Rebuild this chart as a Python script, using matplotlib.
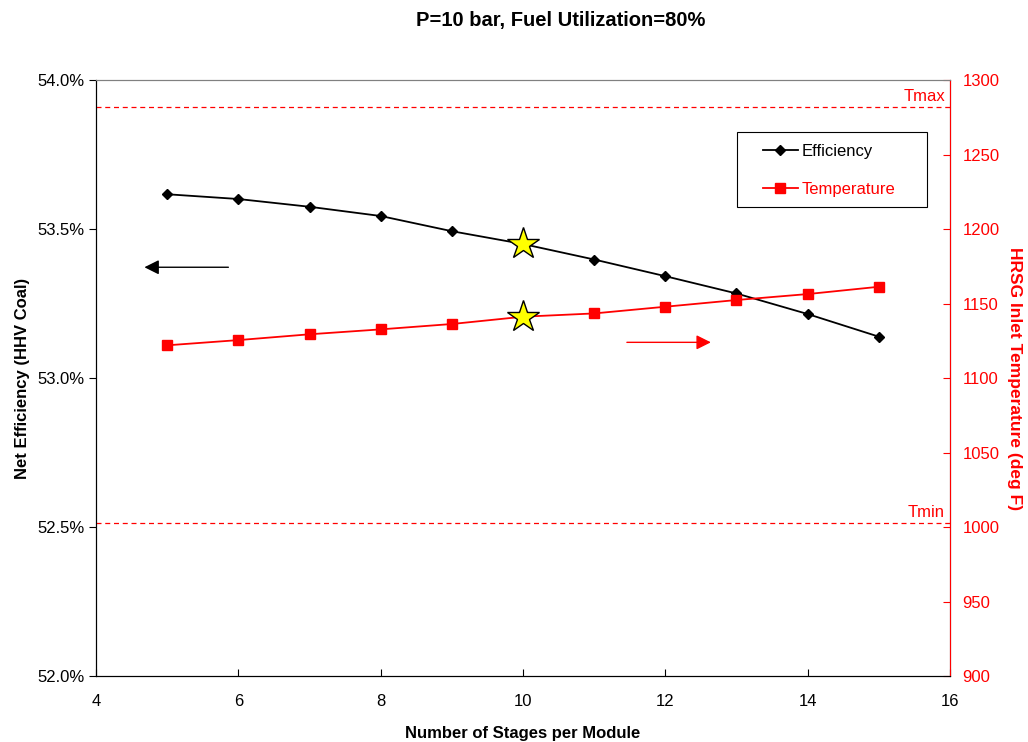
import numpy as np
import matplotlib
matplotlib.use("Agg")
import matplotlib.pyplot as plt
from matplotlib.ticker import FuncFormatter
from matplotlib.patches import Rectangle

plt.rcParams['font.family'] = ['Liberation Sans', 'DejaVu Sans']

# data
stages = [5, 6, 7, 8, 9, 10, 11, 12, 13, 14, 15]
efficiency = [53.617, 53.601, 53.575, 53.544, 53.493, 53.450, 53.398, 53.342, 53.284, 53.215, 53.139]
temperature = [1122, 1125.5, 1129.4, 1132.7, 1136.3, 1141.2, 1143.4, 1147.9, 1152.4, 1156.4, 1161.3]
design_stage = 10
t_max = 1282
t_min = 1003

fig = plt.figure(figsize=(10.28, 7.42), dpi=100)
ax = fig.add_axes([0.0934, 0.0889, 0.8307, 0.8031])
ax2 = ax.twinx()

# efficiency on left axis
ax.plot(stages, efficiency, color='black', lw=1.3, marker='D', ms=5.5,
        label='Efficiency', zorder=3)
i = stages.index(design_stage)
ax.plot(design_stage, efficiency[i], marker='*', ms=24, mfc='#ffff00',
        mec='black', mew=1.0, zorder=5)

# temperature on right axis
ax2.plot(stages, temperature, color='red', lw=1.3, marker='s', ms=7,
         label='Temperature', zorder=3)
ax2.plot(design_stage, temperature[i], marker='*', ms=24, mfc='#ffff00',
         mec='black', mew=1.0, zorder=5)

ax2.axhline(t_max, color='red', ls=(0, (4, 3)), lw=0.9)
ax2.axhline(t_min, color='red', ls=(0, (4, 3)), lw=0.9)
ax2.text(15.93, t_max + 2, 'Tmax', color='red', fontsize=12, ha='right', va='bottom')
ax2.text(15.93, t_min + 2, 'Tmin', color='red', fontsize=12, ha='right', va='bottom')

# direction arrows
ax.annotate('', xy=(4.68, 53.372), xytext=(5.86, 53.372),
            arrowprops=dict(arrowstyle='-|>', color='black', lw=1.0,
                            mutation_scale=22, shrinkA=0, shrinkB=0))
ax2.annotate('', xy=(12.64, 1124), xytext=(11.46, 1124),
             arrowprops=dict(arrowstyle='-|>', color='red', lw=1.0,
                             mutation_scale=22, shrinkA=0, shrinkB=0))

ax.set_xlim(4, 16)
ax.set_ylim(52.0, 54.0)
ax2.set_ylim(900, 1300)
ax.set_xticks(np.arange(4, 17, 2))
ax.set_yticks(np.arange(52.0, 54.01, 0.5))
ax2.set_yticks(np.arange(900, 1301, 50))
ax.yaxis.set_major_formatter(FuncFormatter(lambda v, p: f'{v:.1f}%'))

ax.tick_params(axis='x', direction='in', labelsize=12, pad=13, length=5)
ax.tick_params(axis='y', direction='out', labelsize=12, length=5)
ax2.tick_params(axis='y', direction='in', labelsize=12, colors='red', length=5, pad=9)

ax.set_xlabel('Number of Stages per Module', fontsize=12, fontweight='bold', labelpad=12)
ax.set_ylabel('Net Efficiency (HHV Coal)', fontsize=12, fontweight='bold', labelpad=5)
ax2.set_ylabel('HRSG Inlet Temperature (deg F)', fontsize=12.5, fontweight='bold',
               color='red', rotation=270, labelpad=16)

ax.spines['top'].set_color('#808080')
ax2.spines['top'].set_color('#808080')
ax2.spines['right'].set_color('red')
for s in ['left', 'bottom']:
    ax.spines[s].set_color('black')
    ax2.spines[s].set_color('black')

fig.text(0.545, 0.973, 'P=10 bar, Fuel Utilization=80%', fontsize=14.5,
         fontweight='bold', ha='center', va='center')

# legend: box drawn separately to get the wide side padding
ax2.add_patch(Rectangle((0.7506, 0.787), 0.2224, 0.1258, transform=ax2.transAxes,
                        fill=False, edgecolor='black', lw=0.8, zorder=6))
h1, l1 = ax.get_legend_handles_labels()
h2, l2 = ax2.get_legend_handles_labels()
leg = ax2.legend(h1 + h2, l1 + l2, loc='upper left', bbox_to_anchor=(0.781, 0.893),
                 fontsize=12, frameon=False, borderpad=0, borderaxespad=0,
                 labelspacing=1.4, handlelength=2.1, handletextpad=0.25)
leg.get_texts()[1].set_color('red')

fig.savefig('out.png', dpi=100)
